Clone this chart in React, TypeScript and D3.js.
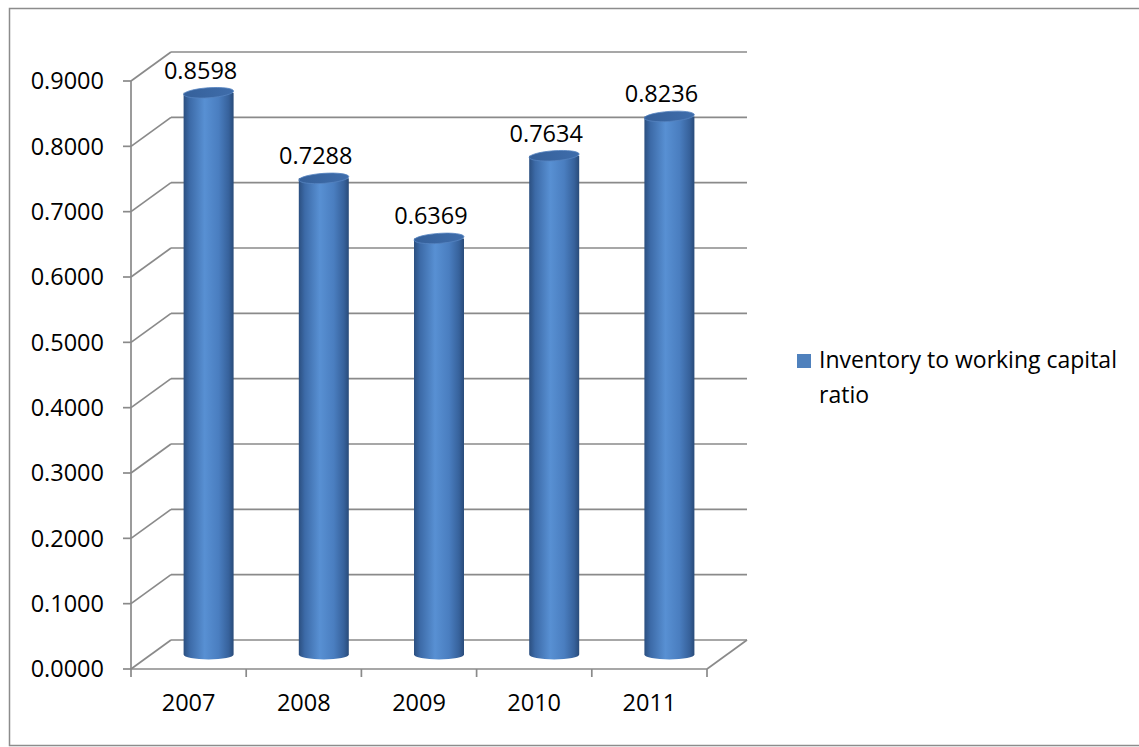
import React from "react";
import * as d3 from "d3";

const categories = ["2007", "2008", "2009", "2010", "2011"];
const values = [0.8598, 0.7288, 0.6369, 0.7634, 0.8236];
const yTicks = [0, 0.1, 0.2, 0.3, 0.4, 0.5, 0.6, 0.7, 0.8, 0.9];
const legendLines = ["Inventory to working capital", "ratio"];

const W = 1139;
const H = 747;
const FONT = "'Open Sans', 'Noto Sans', sans-serif";
const GRID = "#8a8a8a";
const FS = 23.5;

export default function App() {
  const x0 = 131, x1 = 707;
  const yFloor = 669, yTop = 81;
  const dx = 40, dy = -29;
  const x = d3.scaleBand<string>().domain(categories).range([x0, x1]);
  const y = d3.scaleLinear().domain([0, 0.9]).range([yFloor, yTop]);
  const fmt = d3.format(".4f");
  const cylW = 50;
  const ry = 5;

  return (
    <svg width={W} height={H} style={{ position: "absolute", left: 0, top: 0, background: "#fff" }}>
      <defs>
        <linearGradient id="body" x1="0" x2="1" y1="0" y2="0">
          <stop offset="0" stopColor="#2b4f80" />
          <stop offset="0.12" stopColor="#3c6aa7" />
          <stop offset="0.42" stopColor="#5890d3" />
          <stop offset="0.7" stopColor="#4a7ec0" />
          <stop offset="0.9" stopColor="#37629c" />
          <stop offset="1" stopColor="#294b79" />
        </linearGradient>
        <linearGradient id="top" x1="0" x2="1" y1="0" y2="0">
          <stop offset="0" stopColor="#35609a" />
          <stop offset="1" stopColor="#3f6dab" />
        </linearGradient>
      </defs>
      <rect x={9.5} y={8.5} width={W} height={737} fill="#fff" stroke="#8c8c8c" strokeWidth={1.5} />

      {yTicks.map((t) => (
        <g key={"g" + t}>
          <line x1={x0} y1={y(t)} x2={x0 + dx} y2={y(t) + dy} stroke={GRID} strokeWidth={1.7} />
          <line x1={x0 + dx} y1={y(t) + dy} x2={x1 + dx} y2={y(t) + dy} stroke={GRID} strokeWidth={1.7} />
        </g>
      ))}
      <line x1={x0} y1={yFloor} x2={x1} y2={yFloor} stroke={GRID} strokeWidth={1.7} />
      <line x1={x1} y1={yFloor} x2={x1 + dx} y2={yFloor + dy} stroke={GRID} strokeWidth={1.7} />
      <line x1={x0} y1={yTop} x2={x0} y2={yFloor + 8} stroke={GRID} strokeWidth={1.7} />
      {yTicks.map((t) => (
        <g key={"t" + t}>
          <line x1={x0 - 8} y1={y(t)} x2={x0} y2={y(t)} stroke={GRID} strokeWidth={1.7} />
          <text x={104} y={y(t)} dy="0.36em" textAnchor="end" fontFamily={FONT} fontSize={FS} fill="#000">
            {fmt(t)}
          </text>
        </g>
      ))}
      {categories.map((c) => (
        <line key={"xt" + c} x1={x(c)! + x.bandwidth()} y1={yFloor} x2={x(c)! + x.bandwidth()} y2={yFloor + 8} stroke={GRID} strokeWidth={1.7} />
      ))}
      {categories.map((c) => (
        <text key={"xl" + c} x={x(c)! + x.bandwidth() / 2} y={711} textAnchor="middle" fontFamily={FONT} fontSize={FS} fill="#000">
          {c}
        </text>
      ))}

      {categories.map((c, i) => {
        const cx = x(c)! + x.bandwidth() / 2 + dx / 2;
        const yb = yFloor + dy / 2;
        const yt = y(values[i]) + dy / 2;
        const l = cx - cylW / 2;
        const r = cx + cylW / 2;
        const rx = cylW / 2;
        const path = `M${l},${yt} L${l},${yb} A${rx},${ry} 0 0 0 ${r},${yb} L${r},${yt} Z`;
        return (
          <g key={"c" + c}>
            <path d={path} fill="url(#body)" />
            <ellipse cx={cx} cy={yt} rx={rx} ry={ry} fill="url(#top)" stroke="#5583c0" strokeWidth={0.8} transform={`rotate(-4 ${cx} ${yt})`} />
            <text x={cx - 8} y={yt - 14} textAnchor="middle" fontFamily={FONT} fontSize={FS} fill="#000">
              {fmt(values[i])}
            </text>
          </g>
        );
      })}

      <rect x={797} y={354} width={14} height={14} fill="#4f81bd" />
      {legendLines.map((s, i) => (
        <text key={"lg" + i} x={819} y={368 + i * 35} fontFamily={FONT} fontSize={23} fill="#000">
          {s}
        </text>
      ))}
    </svg>
  );
}
